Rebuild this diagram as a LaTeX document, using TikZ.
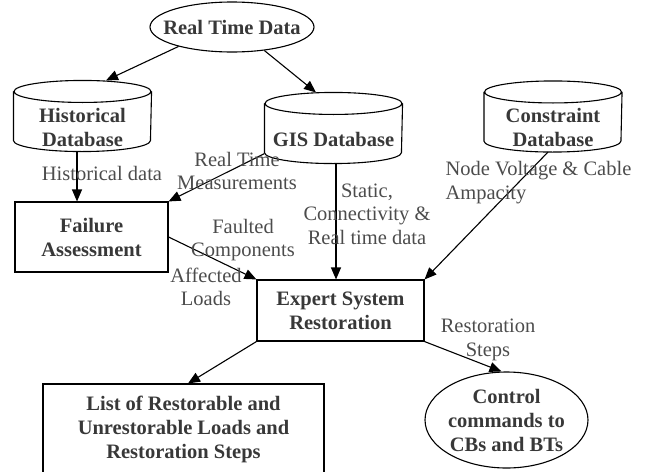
\documentclass[tikz,border=0pt]{standalone}
\usepackage{fontspec}
\setmainfont{Liberation Serif}
\usetikzlibrary{shapes.geometric,arrows.meta}

\begin{document}
\begin{tikzpicture}[x=1pt,y=-1pt,line width=1.1pt,
  font=\fontsize{20.5}{23.5}\selectfont,
  every node/.style={inner sep=0pt,align=center},
  title/.style={font=\fontsize{20.5}{24}\selectfont\bfseries,text=black!78},
  lbl/.style={text=black!70},
  box/.style={draw,rectangle,title},
  oval/.style={draw,ellipse},
  db/.style={minimum width=137pt,minimum height=48pt,title},
  arr/.style={-{Triangle[length=12pt,width=10pt]}}]
\useasboundingbox (0,0) rectangle (647,471);
% sources
\node[oval,minimum width=164pt,minimum height=50pt,
  label={[title]center:Real Time Data}] (rtd) at (232,27) {};
\node[db] (hist) at (82.5,127) {Historical\\Database};
\node[db] (gis) at (333.5,139) {GIS Database};
\node[db] (cons) at (553,127.5) {Constraint\\Database};
\foreach \n in {hist,gis,cons}
  \draw ([yshift=11pt]\n.north west) -- ([yshift=11pt]\n.south west)
    arc[start angle=180,end angle=360,x radius=68.5pt,y radius=11pt]
    -- ([yshift=11pt]\n.north east)
    ([yshift=11pt]\n.north) ellipse[x radius=68.5pt,y radius=11pt];
% processing
\node[box,minimum width=153pt,minimum height=70pt] (fail) at (91.5,237) {Failure\\Assessment};
\node[box,minimum width=167pt,minimum height=61pt] (expert) at (340.5,310.5) {Expert System\\Restoration};
% outputs
\node[box,minimum width=281pt,minimum height=90pt] (list) at (183.5,429)
  {List of Restorable and\\Unrestorable Loads and\\Restoration Steps};
\node[oval,minimum width=163pt,minimum height=96pt,
  label={[title]center:{Control\\commands to\\CBs and BTs}}] (ctrl) at (506.5,420) {};
% connectors
\draw[arr] (rtd.200) -- ([xshift=23.5pt,yshift=22pt]hist.north);
\draw[arr] (rtd.324) -- ([xshift=-17.5pt,yshift=22pt]gis.north);
\draw[arr] ([xshift=-5.5pt]hist.south) -- ([xshift=-5.5pt]hist.south |- fail.north);
\draw[arr] ([yshift=10pt]gis.south west) -- (fail.north east);
\draw[arr] ([xshift=2.5pt]gis.south) -- ([xshift=2.5pt]gis.south |- expert.north);
\draw[arr] ([xshift=-5pt]cons.south) -- (expert.north east);
\draw[arr] (fail.east) -- (expert.north west);
\draw[arr] (expert.south west) -- ([xshift=4.5pt]list.north);
\draw[arr] (expert.south east) -- ([xshift=-5pt]ctrl.north);
% labels
\node[lbl] (histlbl) at (102,173) {Historical data};
\node[lbl] (rtmlbl) at (237,171) {Real Time\\Measurements};
\node[lbl] (statlbl) at (367,214) {Static,\\Connectivity \&\\Real time data};
\node[lbl,align=left,anchor=west] (nvlbl) at (445,182.5) {Node Voltage \& Cable\\Ampacity};
\node[lbl] (fltlbl) at (243,240) {Faulted\\Components};
\node[lbl] (afflbl) at (206,287) {Affected\\Loads};
\node[lbl] (rstlbl) at (488,340) {Restoration\\Steps};
\end{tikzpicture}
\end{document}
